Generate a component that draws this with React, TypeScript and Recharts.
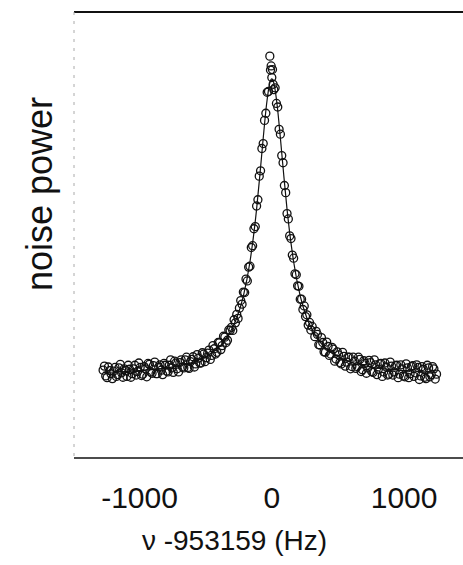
import { ComposedChart, Line, Scatter, XAxis, YAxis, ReferenceLine } from 'recharts';

// fitted curve
const fitX = [-1260, -1100, -1000, -900, -800, -700, -600, -500, -400, -350, -300, -250, -200, -150, -100, -75, -50, -25, 0, 15, 30, 55, 80, 105, 130, 180, 230, 280, 330, 380, 430, 530, 630, 730, 830, 930, 1030, 1130, 1260];
const fitY = [0.192, 0.194, 0.196, 0.198, 0.201, 0.206, 0.213, 0.225, 0.244, 0.260, 0.282, 0.314, 0.363, 0.440, 0.558, 0.635, 0.717, 0.792, 0.841, 0.850, 0.841, 0.792, 0.717, 0.635, 0.558, 0.440, 0.363, 0.314, 0.282, 0.260, 0.244, 0.225, 0.213, 0.206, 0.201, 0.198, 0.196, 0.194, 0.192];

// measured points, left tail
const leftX = [-1260, -1240, -1220, -1200, -1180, -1160, -1140, -1120, -1100, -1080, -1060, -1040, -1020, -1000, -980, -960, -940, -920, -900, -880, -860, -840, -820, -800, -780, -760, -740, -720, -700, -680, -660, -640, -620, -600, -580, -560, -540, -520, -500, -480, -460, -440, -420, -400, -380, -360, -340, -320, -300];
const leftY = [0.197, 0.184, 0.204, 0.189, 0.195, 0.183, 0.202, 0.191, 0.200, 0.183, 0.199, 0.189, 0.208, 0.194, 0.203, 0.188, 0.200, 0.212, 0.193, 0.207, 0.189, 0.204, 0.197, 0.212, 0.195, 0.208, 0.202, 0.217, 0.200, 0.214, 0.204, 0.220, 0.203, 0.216, 0.227, 0.211, 0.224, 0.213, 0.233, 0.225, 0.242, 0.230, 0.245, 0.237, 0.259, 0.252, 0.271, 0.264, 0.286];
const leftX2 = [-1250, -1230, -1210, -1190, -1170, -1150, -1130, -1110, -1090, -1070, -1050, -1030, -1010, -990, -970, -950, -930, -910, -890, -870, -850, -830, -810, -790, -770, -750, -730, -710, -690, -670, -650, -630, -610, -590, -570, -550, -530, -510, -490, -470, -450, -430, -410, -390, -370, -350, -330, -310];
const leftY2 = [0.206, 0.180, 0.196, 0.178, 0.203, 0.187, 0.210, 0.181, 0.196, 0.208, 0.181, 0.200, 0.186, 0.213, 0.185, 0.205, 0.182, 0.210, 0.190, 0.215, 0.189, 0.209, 0.187, 0.208, 0.193, 0.220, 0.192, 0.213, 0.193, 0.220, 0.202, 0.226, 0.201, 0.221, 0.204, 0.232, 0.213, 0.236, 0.216, 0.235, 0.221, 0.252, 0.233, 0.259, 0.243, 0.273, 0.259, 0.287];

// measured points, peak region
const peakX = [-290, -280, -270, -260, -250, -240, -230, -220, -210, -200, -190, -180, -170, -160, -150, -140, -130, -120, -110, -100, -90, -80, -70, -60, -50, -40, -30, -20, -10, 0, 5, 10, 15, 20, 25, 30, 40, 50, 60, 70, 80, 90, 100, 110, 120, 130, 140, 150, 160, 170, 180, 190, 200, 210, 220, 230, 240, 250, 260, 270, 280, 290, 300, 310, 320];
const peakY = [0.293, 0.286, 0.310, 0.303, 0.322, 0.313, 0.336, 0.353, 0.345, 0.372, 0.371, 0.401, 0.397, 0.428, 0.430, 0.472, 0.476, 0.514, 0.519, 0.565, 0.579, 0.632, 0.644, 0.694, 0.705, 0.757, 0.773, 0.820, 0.822, 0.901, 0.870, 0.879, 0.853, 0.871, 0.838, 0.826, 0.830, 0.795, 0.787, 0.737, 0.726, 0.678, 0.662, 0.611, 0.595, 0.548, 0.536, 0.498, 0.492, 0.455, 0.448, 0.413, 0.411, 0.386, 0.385, 0.356, 0.356, 0.333, 0.341, 0.317, 0.321, 0.298, 0.304, 0.287, 0.295];

// measured points, right tail
const rightX = [340, 360, 380, 400, 420, 440, 460, 480, 500, 520, 540, 560, 580, 600, 620, 640, 660, 680, 700, 720, 740, 760, 780, 800, 820, 840, 860, 880, 900, 920, 940, 960, 980, 1000, 1020, 1040, 1060, 1080, 1100, 1120, 1140, 1160, 1180, 1200, 1220, 1240, 1260];
const rightY = [0.272, 0.277, 0.253, 0.259, 0.237, 0.250, 0.233, 0.244, 0.222, 0.231, 0.211, 0.228, 0.215, 0.226, 0.205, 0.217, 0.205, 0.221, 0.198, 0.212, 0.202, 0.214, 0.192, 0.209, 0.199, 0.212, 0.193, 0.204, 0.188, 0.206, 0.193, 0.208, 0.188, 0.200, 0.182, 0.202, 0.189, 0.207, 0.191, 0.203, 0.184, 0.199, 0.178, 0.202, 0.187, 0.200, 0.188];
const rightX2 = [350, 370, 390, 410, 430, 450, 470, 490, 510, 530, 550, 570, 590, 610, 630, 650, 670, 690, 710, 730, 750, 770, 790, 810, 830, 850, 870, 890, 910, 930, 950, 970, 990, 1010, 1030, 1050, 1070, 1090, 1110, 1130, 1150, 1170, 1190, 1210, 1230, 1250];
const rightY2 = [0.284, 0.254, 0.270, 0.238, 0.260, 0.230, 0.248, 0.217, 0.238, 0.214, 0.237, 0.206, 0.226, 0.200, 0.226, 0.201, 0.226, 0.194, 0.218, 0.190, 0.219, 0.194, 0.220, 0.187, 0.211, 0.183, 0.213, 0.186, 0.215, 0.186, 0.207, 0.180, 0.209, 0.184, 0.211, 0.180, 0.205, 0.183, 0.209, 0.176, 0.205, 0.181, 0.208, 0.182, 0.205, 0.177];

const xTicks = [-1000, 0, 1000];

const fitData = fitX.map((x, i) => ({ x, fit: fitY[i] }));
const allX = [...leftX, ...leftX2, ...peakX, ...rightX, ...rightX2];
const allY = [...leftY, ...leftY2, ...peakY, ...rightY, ...rightY2];
const pointData = allX.map((x, i) => ({ x, y: allY[i] }));

const font = '"Liberation Sans", Arial, sans-serif';

const OpenCircle = (props: any) => (
  <circle cx={props.cx} cy={props.cy} r={4} fill="none" stroke="#111" strokeWidth={1.3} />
);

const XTick = (props: any) => (
  <text x={props.x + 2} y={props.y + 42} textAnchor="middle" fontSize={30} fontFamily={font} fill="#111">
    {props.payload.value}
  </text>
);

export default function App() {
  return (
    <div style={{ position: 'absolute', left: 0, top: 0, background: '#fff' }}>
      <ComposedChart width={463} height={565} margin={{ top: 12, right: 0, bottom: 0, left: 0 }}>
        <XAxis
          dataKey="x"
          type="number"
          domain={[-1480, 1460]}
          ticks={xTicks}
          height={107}
          tickLine={false}
          axisLine={{ stroke: '#111', strokeWidth: 1.5 }}
          tick={<XTick />}
          allowDataOverflow
          label={{ value: 'ν -953159 (Hz)', position: 'insideBottom', offset: 15, fontSize: 28, fill: '#111', fontFamily: font, dx: -34 }}
        />
        <YAxis
          type="number"
          domain={[0, 1]}
          width={74}
          tick={false}
          tickLine={false}
          axisLine={{ stroke: '#aaa', strokeDasharray: '3 6' }}
          label={{
            content: () => (
              <text transform="translate(52,194) rotate(-90)" textAnchor="middle" fontSize={36} fontFamily={font} fill="#111">
                noise power
              </text>
            ),
          }}
        />
        <ReferenceLine y={1} stroke="#111" strokeWidth={2} />
        <Scatter data={pointData} dataKey="y" shape={<OpenCircle />} isAnimationActive={false} />
        <Line data={fitData} dataKey="fit" type="monotone" stroke="#111" strokeWidth={1.2} dot={false} isAnimationActive={false} />
      </ComposedChart>
    </div>
  );
}
